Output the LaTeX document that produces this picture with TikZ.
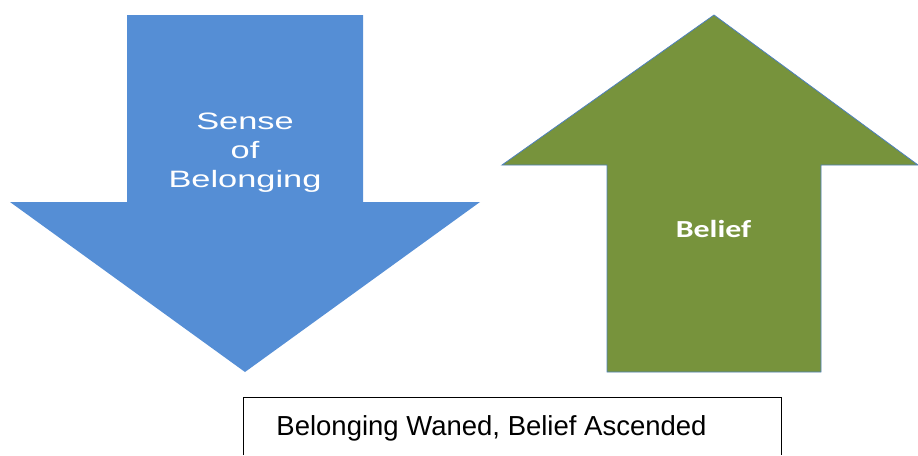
\documentclass[tikz,border=0pt]{standalone}
\usepackage{fontspec}
\setmainfont{Liberation Sans}
\newfontfamily\calib{Carlito}
\definecolor{downblue}{RGB}{85,142,213}
\definecolor{upgreen}{RGB}{119,147,60}
\definecolor{edgeblue}{RGB}{79,129,189}
% horizontally widened lettering used inside the arrows
\newcommand{\widetext}[2]{\scalebox{#1}[1]{#2}}
\begin{document}
\begin{tikzpicture}[x=1pt,y=-1pt,
  arrowtext/.style={text=white, align=center, inner sep=0pt},
  caption/.style={inner sep=0pt, anchor=base, font=\fontsize{27.5}{30}\selectfont}]
\useasboundingbox (0,0) rectangle (918,455);
% downward arrow
\fill[downblue] (127,15) -- (363,15) -- (363,202) -- (480,202) -- (245,372)
  -- (10,202) -- (127,202) -- cycle;
% upward arrow
\filldraw[fill=upgreen, draw=edgeblue, line width=0.8pt]
  (714,15) -- (918,165) -- (821,165) -- (821,372) -- (607,372) -- (607,165)
  -- (502,165) -- cycle;
% labels
\node[arrowtext, anchor=north, font=\fontsize{23.7}{29}\selectfont] (sense) at (245,112.5)
  {\widetext{1.45}{Sense}\\\widetext{1.45}{of}\\\widetext{1.45}{Belonging}};
\node[arrowtext, anchor=base, font=\calib\bfseries\fontsize{24.5}{30}\selectfont] (belief) at (713.5,237.5)
  {\widetext{1.3}{Belief}};
% caption box, open at the lower edge
\draw[line width=1pt] (243,455) -- (243,397) -- (781,397) -- (781,455);
\node[caption] (cap) at (491.5,435) {Belonging Waned, Belief Ascended};
\end{tikzpicture}
\end{document}
